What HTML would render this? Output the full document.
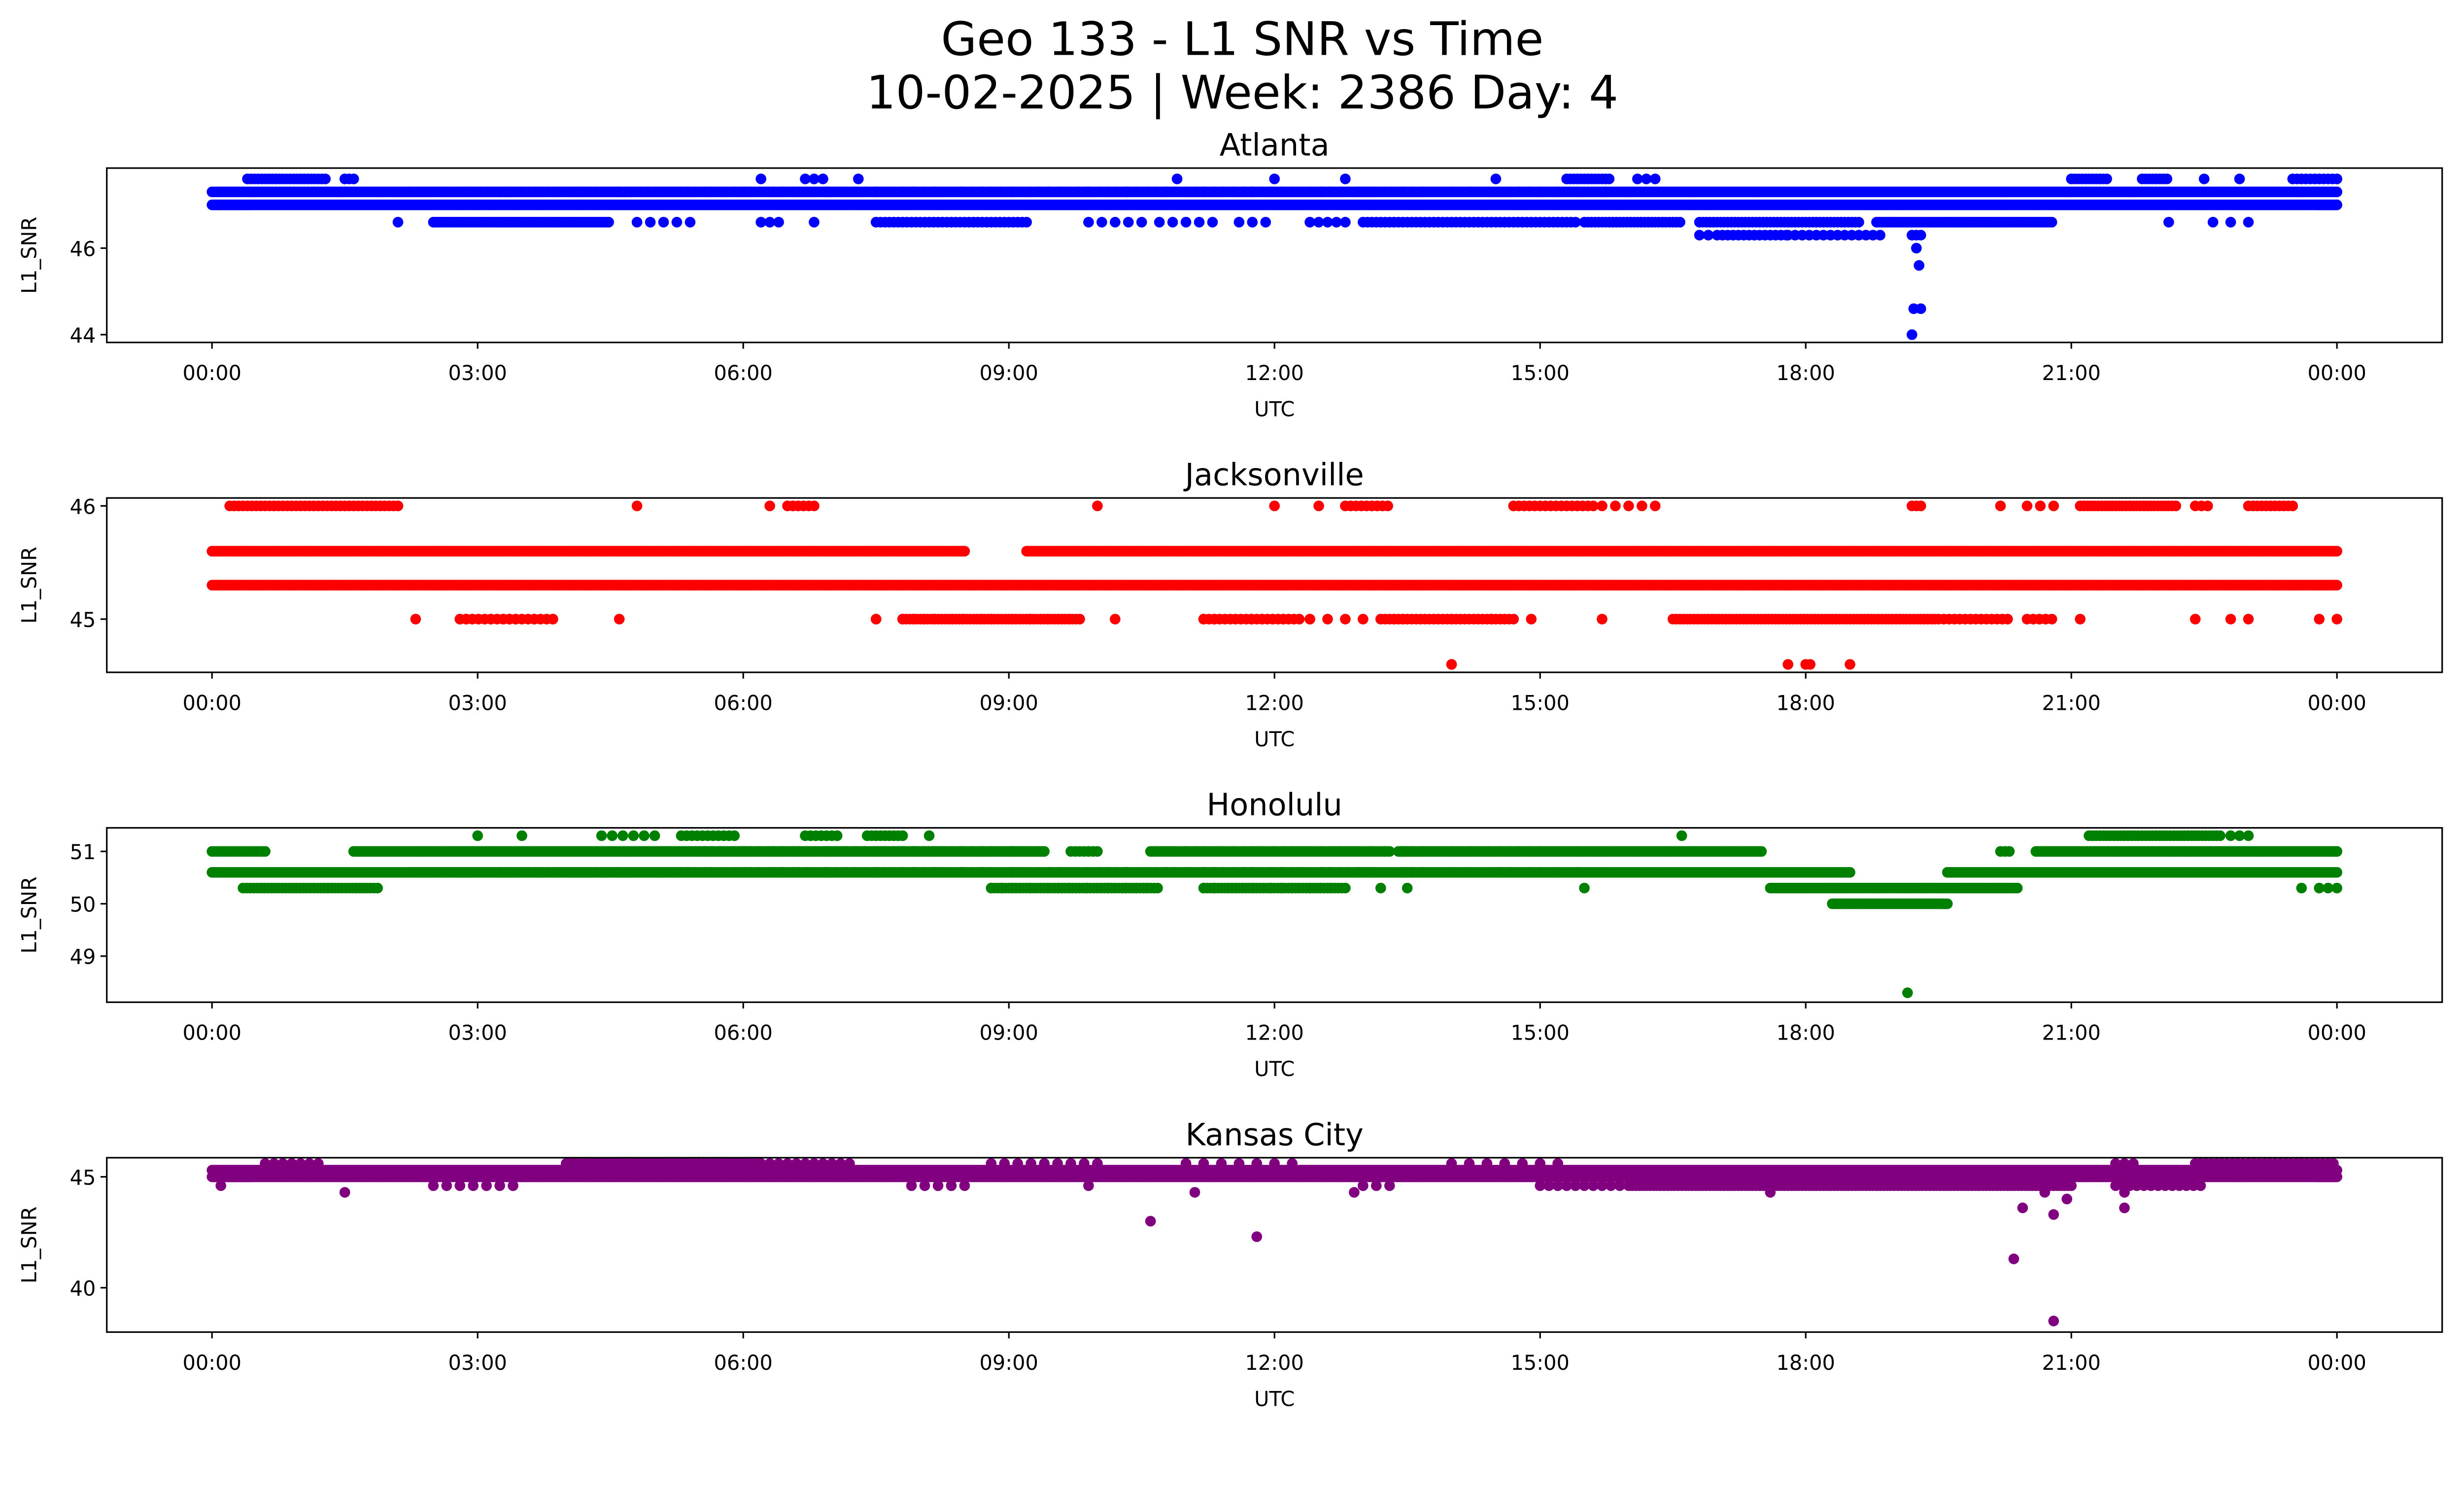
<!DOCTYPE html>
<html><head><meta charset="utf-8"><style>
html,body{margin:0;padding:0;background:#fff;overflow:hidden}
svg{display:block}
text{font-family:"DejaVu Sans","Liberation Sans",sans-serif;fill:#000}
</style></head><body>
<svg id="fig" width="5225" height="3033" viewBox="0 0 1639.5 951.7" preserveAspectRatio="none" xmlns="http://www.w3.org/2000/svg">
<rect width="1639.5" height="951.7" fill="#fff"/>
<text x="791" y="35" font-size="29.5" text-anchor="middle">Geo 133 - L1 SNR vs Time</text>
<text x="791" y="69" font-size="29.5" text-anchor="middle">10-02-2025 | Week: 2386 Day: 4</text>
</svg>
<script>
// x tick labels (hours)
const xTickHours = [0,3,6,9,12,15,18,21,24];
const xTickLabels = ["00:00","03:00","06:00","09:00","12:00","15:00","18:00","21:00","00:00"];
// Panels
const stations = ["Atlanta","Jacksonville","Honolulu","Kansas City"];
const colors = ["#0000ff","#ff0000","#008000","#800080"];
const yTicks = [[44,46],[45,46],[49,50,51],[40,45]];
const yRanges = [[43.82,47.85],[44.53,46.07],[48.12,51.45],[38.0,45.86]];
// segments: [startHour, endHour, value, stepHours]
const atlantaSegs = [[0,24,47.3,0.02],[0,24,47.0,0.02],[0.4,1.3,47.6,0.04],[1.5,1.6,47.6,0.05],[6.2,6.2,47.6,1],[6.7,6.9,47.6,0.1],[7.3,7.3,47.6,1],[10.9,10.9,47.6,1],[12,12,47.6,1],[12.8,12.8,47.6,1],[14.5,14.5,47.6,1],[15.3,15.8,47.6,0.04],[16.1,16.3,47.6,0.1],[21,21.4,47.6,0.04],[21.8,22.1,47.6,0.04],[22.5,22.5,47.6,1],[22.9,22.9,47.6,1],[23.5,24,47.6,0.05],
[2.1,2.1,46.6,1],[2.5,4.5,46.6,0.03],[4.8,5.5,46.6,0.15],[6.2,6.4,46.6,0.1],[6.8,6.8,46.6,1],[7.5,9.2,46.6,0.05],[9.9,10.5,46.6,0.15],[10.7,11.3,46.6,0.15],[11.6,12,46.6,0.15],[12.4,12.8,46.6,0.1],[13.0,15.4,46.6,0.05],[15.5,16.6,46.6,0.04],[16.8,18.6,46.6,0.04],[18.8,20.8,46.6,0.03],[22.1,22.1,46.6,1],[22.6,22.8,46.6,0.2],[23,23,46.6,1],
[16.8,17.0,46.3,0.1],[17.0,17.8,46.3,0.06],[17.8,18.9,46.3,0.08],[19.2,19.3,46.3,0.05]];
const atlantaPts = [[19.25,46.0],[19.28,45.6],[19.22,44.6],[19.3,44.6],[19.2,44.0]];
const jaxSegs = [[0.2,2.1,46.0,0.05],[4.8,4.8,46,1],[6.3,6.3,46,1],[6.5,6.8,46,0.06],[10,10,46,1],[12,12,46,1],[12.5,12.5,46,1],[12.8,13.3,46,0.06],[14.7,15.6,46,0.06],[15.7,16.3,46,0.15],[19.2,19.3,46,0.05],[20.2,20.2,46,1],[20.5,20.8,46,0.15],[21.1,22.2,46,0.04],[22.4,22.6,46,0.07],[23,23.5,46,0.05],
[0,8.5,45.6,0.02],[9.2,24,45.6,0.02],[0,24,45.3,0.02],
[2.3,2.3,45,1],[2.8,3.9,45,0.07],[4.6,4.6,45,1],[7.5,7.5,45,1],[7.8,9.8,45,0.04],[10.2,10.2,45,1],[11.2,12.3,45,0.06],[12.4,13.0,45,0.2],[13.2,14.7,45,0.05],[14.9,14.9,45,1],[15.7,15.7,45,1],[16.5,19.5,45,0.04],[19.5,20.3,45,0.06],[20.5,20.8,45,0.07],[21.1,21.1,45,1],[22.4,22.4,45,1],[22.8,23,45,0.2],[23.8,24,45,0.2]];
const jaxPts = [[14,44.6],[17.8,44.6],[18,44.6],[18.05,44.6],[18.5,44.6]];
const honSegs = [[3,3,51.3,1],[3.5,3.5,51.3,1],[4.4,5,51.3,0.12],[5.3,5.9,51.3,0.06],[6.7,7.1,51.3,0.06],[7.4,7.8,51.3,0.05],[8.1,8.1,51.3,1],[16.6,16.6,51.3,1],[21.2,22.7,51.3,0.04],[22.8,23,51.3,0.1],
[0,0.6,51,0.03],[1.6,9.4,51,0.02],[9.7,10,51,0.05],[10.6,13.3,51,0.03],[13.4,17.5,51,0.02],[20.2,20.3,51,0.05],[20.6,24,51,0.02],
[0,18.5,50.6,0.02],[19.6,24,50.6,0.02],
[0.35,1.9,50.3,0.04],[8.8,10.7,50.3,0.04],[11.2,12.8,50.3,0.04],[13.2,13.2,50.3,1],[13.5,13.5,50.3,1],[15.5,15.5,50.3,1],[17.6,20.4,50.3,0.03],[23.6,23.6,50.3,1],[23.8,24,50.3,0.1],
[18.3,19.6,50.0,0.02]];
const honPts = [[19.15,48.3]];
const kcSegs = [[0,24,45.3,0.02],[0,24,45.0,0.02],[0.6,1.2,45.6,0.1],[4,6.2,45.6,0.05],[6.3,7.2,45.6,0.1],[8.8,10,45.6,0.15],[11,12.2,45.6,0.2],[14,15.2,45.6,0.2],[21.5,21.7,45.6,0.1],[22.4,24,45.6,0.06],
[2.5,3.5,44.6,0.15],[7.9,8.5,44.6,0.15],[9.9,9.9,44.6,1],[13,13.3,44.6,0.15],[15,16,44.6,0.1],[16,21,44.6,0.04],[21.5,22.5,44.6,0.08]];
const kcPts = [[0.1,44.6],[1.5,44.3],[10.6,43],[11.1,44.3],[11.8,42.3],[12.9,44.3],[17.6,44.3],[20.35,41.3],[20.45,43.6],[20.8,43.3],[20.8,38.5],[20.95,44],[21.6,43.6],[21.6,44.3],[20.7,44.3]];
const allSegs = [atlantaSegs, jaxSegs, honSegs, kcSegs];
const allPts = [atlantaPts, jaxPts, honPts, kcPts];

const NS="http://www.w3.org/2000/svg";
const fig=document.getElementById('fig');
const axL=68, axR=1555, x0=135, x1=1488;
const tops=[107,317,527,737], H=111;
function mk(tag,attrs,parent){const e=document.createElementNS(NS,tag);for(const k in attrs)e.setAttribute(k,attrs[k]);(parent||fig).appendChild(e);return e;}
const xs=h=>x0+(x1-x0)*h/24;
stations.forEach((name,i)=>{
  const top=tops[i], bot=top+H;
  const [lo,hi]=yRanges[i];
  const ys=v=>bot-(v-lo)/(hi-lo)*H;
  const g=mk('g',{});
  
  
  const pts=mk('g',{fill:colors[i]},g);
  
  
  let d='';
  const r=3.4;
  const dot=(h,v)=>{const cx=xs(h),cy=ys(v);d+=`M${(cx-r).toFixed(2)},${cy.toFixed(2)}a${r},${r} 0 1,0 ${2*r},0a${r},${r} 0 1,0 ${-2*r},0`;};
  allSegs[i].forEach(([a,b,v,s])=>{for(let h=a;h<=b+1e-9;h+=s)dot(h,v);});
  allPts[i].forEach(([h,v])=>dot(h,v));
  const p=mk('path',{d:d},pts);
  
  
  const fr=mk('rect',{x:axL,y:top,width:axR-axL,height:H,fill:'none',stroke:'#000','stroke-width':1},g);
  
  
  xTickHours.forEach((h,k)=>{
    const x=xs(h);
    mk('line',{x1:x,x2:x,y1:bot,y2:bot+4,stroke:'#000','stroke-width':1},g);
    const t=mk('text',{x:x,y:bot+24,'font-size':13,'text-anchor':'middle'},g);
    t.textContent=xTickLabels[k];
    
    
  });
  yTicks[i].forEach(v=>{
    const y=ys(v);
    mk('line',{x1:axL-4,x2:axL,y1:y,y2:y,stroke:'#000','stroke-width':1},g);
    const t=mk('text',{x:axL-7,y:y+5,'font-size':13,'text-anchor':'end'},g);
    t.textContent=v;
    
    
  });
  const xl=mk('text',{x:(axL+axR)/2,y:bot+47,'font-size':13,'text-anchor':'middle'},g);
  xl.textContent='UTC';
  
  
  const yl=mk('text',{x:0,y:0,'font-size':13,'text-anchor':'middle',transform:`translate(23,${top+H/2}) rotate(-90)`},g);
  yl.textContent='L1_SNR';
  
  
  const tt=mk('text',{x:(axL+axR)/2,y:top-8,'font-size':19.5,'text-anchor':'middle'},g);
  tt.textContent=name;
  
  
});
</script>
</body></html>
